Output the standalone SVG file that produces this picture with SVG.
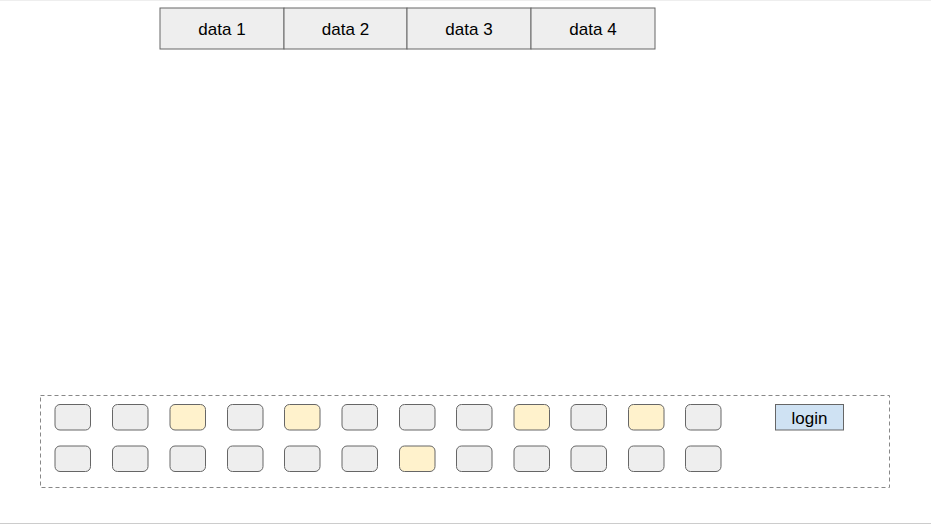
<svg xmlns="http://www.w3.org/2000/svg" width="931" height="525" viewBox="0 0 931 525">
<style>
.cell{fill:#eeeeee;stroke:#666666;stroke-width:1}
.k{fill:#eeeeee;stroke:#666666;stroke-width:1}
.y{fill:#fff2cc;stroke:#666666;stroke-width:1}
.t{font-family:"Liberation Sans",Arial,sans-serif;font-size:17px;fill:#000;text-anchor:middle}
</style>
<rect width="931" height="525" fill="#ffffff"/>
<line x1="0" y1="0.5" x2="931" y2="0.5" stroke="#eeeeee"/>
<line x1="0" y1="523.5" x2="931" y2="523.5" stroke="#cccccc"/>
<g id="data">
<g id="data1"><rect class="cell" x="160" y="8" width="124" height="41"/><text class="t" x="222" y="34.5">data 1</text></g>
<g id="data2"><rect class="cell" x="284" y="8" width="123" height="41"/><text class="t" x="345.5" y="34.5">data 2</text></g>
<g id="data3"><rect class="cell" x="407" y="8" width="124" height="41"/><text class="t" x="469" y="34.5">data 3</text></g>
<g id="data4"><rect class="cell" x="531" y="8" width="124" height="41"/><text class="t" x="593" y="34.5">data 4</text></g>
</g>
<g id="panel">
<rect x="40.5" y="395.5" width="849" height="92" fill="none" stroke="#888888" stroke-dasharray="4 3"/>
</g>
<g id="keys">
<rect class="k" x="55" y="404.5" width="35.5" height="25.5" rx="5"/>
<rect class="k" x="112.5" y="404.5" width="35.5" height="25.5" rx="5"/>
<rect class="y" x="170" y="404.5" width="35.5" height="25.5" rx="5"/>
<rect class="k" x="227.5" y="404.5" width="35.5" height="25.5" rx="5"/>
<rect class="y" x="284.5" y="404.5" width="35.5" height="25.5" rx="5"/>
<rect class="k" x="342" y="404.5" width="35.5" height="25.5" rx="5"/>
<rect class="k" x="399.5" y="404.5" width="35.5" height="25.5" rx="5"/>
<rect class="k" x="456.5" y="404.5" width="35.5" height="25.5" rx="5"/>
<rect class="y" x="514" y="404.5" width="35.5" height="25.5" rx="5"/>
<rect class="k" x="571" y="404.5" width="35.5" height="25.5" rx="5"/>
<rect class="y" x="628.5" y="404.5" width="35.5" height="25.5" rx="5"/>
<rect class="k" x="685.5" y="404.5" width="35.5" height="25.5" rx="5"/>
<rect class="k" x="55" y="446" width="35.5" height="25.5" rx="5"/>
<rect class="k" x="112.5" y="446" width="35.5" height="25.5" rx="5"/>
<rect class="k" x="170" y="446" width="35.5" height="25.5" rx="5"/>
<rect class="k" x="227.5" y="446" width="35.5" height="25.5" rx="5"/>
<rect class="k" x="284.5" y="446" width="35.5" height="25.5" rx="5"/>
<rect class="k" x="342" y="446" width="35.5" height="25.5" rx="5"/>
<rect class="y" x="399.5" y="446" width="35.5" height="25.5" rx="5"/>
<rect class="k" x="456.5" y="446" width="35.5" height="25.5" rx="5"/>
<rect class="k" x="514" y="446" width="35.5" height="25.5" rx="5"/>
<rect class="k" x="571" y="446" width="35.5" height="25.5" rx="5"/>
<rect class="k" x="628.5" y="446" width="35.5" height="25.5" rx="5"/>
<rect class="k" x="685.5" y="446" width="35.5" height="25.5" rx="5"/>
</g>
<g id="login">
<rect x="775.5" y="404.5" width="68" height="25.5" fill="#cfe2f3" stroke="#666666"/>
<text class="t" x="809.5" y="423.5">login</text>
</g>
<g id="connectors"/>
</svg>
